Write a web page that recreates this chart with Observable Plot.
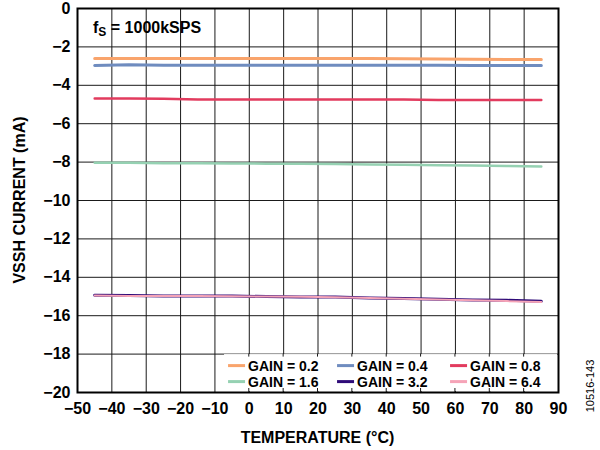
<!DOCTYPE html>
<html>
<head>
<meta charset="utf-8">
<script src="https://cdn.jsdelivr.net/npm/d3@7"></script>
<script src="https://cdn.jsdelivr.net/npm/@observablehq/plot@0.6"></script>
<style>
  html, body { margin: 0; padding: 0; background: #fff; }
  #chart { width: 600px; height: 450px; }
</style>
</head>
<body>
<div id="chart"></div>
<script>
// ---- data ----
const temps = [-45, -35, -25, -15, -5, 5, 15, 25, 35, 45, 55, 65, 75, 85];
const gain02 = [-2.60, -2.60, -2.60, -2.60, -2.60, -2.60, -2.60, -2.61, -2.61, -2.62, -2.63, -2.64, -2.65, -2.65];
const gain04 = [-2.97, -2.93, -2.95, -2.96, -2.96, -2.96, -2.96, -2.96, -2.96, -2.96, -2.96, -2.97, -2.97, -2.97];
const gain08 = [-4.69, -4.69, -4.70, -4.74, -4.74, -4.74, -4.74, -4.74, -4.74, -4.74, -4.76, -4.77, -4.77, -4.77];
const gain16 = [-8.04, -8.04, -8.06, -8.06, -8.07, -8.08, -8.08, -8.10, -8.12, -8.14, -8.16, -8.18, -8.20, -8.23];
const gain32 = [-14.93, -14.95, -14.97, -14.98, -14.98, -15.00, -15.02, -15.03, -15.08, -15.10, -15.14, -15.18, -15.20, -15.25];
const gain64 = [-14.95, -14.97, -14.98, -14.98, -14.99, -15.00, -15.01, -15.04, -15.08, -15.12, -15.16, -15.20, -15.24, -15.28];
const seriesNames = ["GAIN = 0.2", "GAIN = 0.4", "GAIN = 0.8", "GAIN = 1.6", "GAIN = 3.2", "GAIN = 6.4"];
const seriesValues = [gain02, gain04, gain08, gain16, gain32, gain64];
const xTicks = [-50, -40, -30, -20, -10, 0, 10, 20, 30, 40, 50, 60, 70, 80, 90];
const yTicks = [0, -2, -4, -6, -8, -10, -12, -14, -16, -18, -20];
const titleMain = "f";
const titleSub = "S";
const titleRest = " = 1000kSPS";
const xLabel = "TEMPERATURE (°C)";
const yLabel = "VSSH CURRENT (mA)";
const caption = "10516-143";

// ---- styles ----
const colors = ["#F9A46C", "#6F8CBF", "#E23B5E", "#95D1B2", "#2E0B78", "#F5A3B7"];
const widths = [3, 3, 2.5, 2.5, 3, 2];

const rows = [];
seriesNames.forEach((name, i) => {
  temps.forEach((t, j) => rows.push({series: name, temp: t, value: seriesValues[i][j]}));
});

const font = "'Liberation Sans', Arial, Helvetica, sans-serif";

const plot = Plot.plot({
  width: 600,
  height: 450,
  marginLeft: 77,
  marginRight: 42,
  marginTop: 8,
  marginBottom: 58,
  style: {fontFamily: font, fontWeight: "bold", fontSize: "16px", color: "#000", background: "#fff"},
  x: {domain: [-50, 90], label: null},
  y: {domain: [-20, 0], label: null},
  color: {domain: seriesNames, range: colors},
  marks: [
    Plot.gridX(xTicks, {stroke: "#1a1a1a", strokeOpacity: 1, strokeWidth: 1}),
    Plot.gridY(yTicks, {stroke: "#1a1a1a", strokeOpacity: 1, strokeWidth: 1}),
    ...seriesNames.map((name, i) =>
      Plot.line(rows.filter(d => d.series === name), {
        x: "temp", y: "value", stroke: "series", strokeWidth: widths[i], curve: "linear"
      })
    ),
    Plot.frame({stroke: "#000", strokeWidth: 2}),
    Plot.axisX(xTicks, {tickSize: 0, tickPadding: 10, fontSize: 16, fontWeight: "bold"}),
    Plot.axisY(yTicks, {tickSize: 0, tickPadding: 7, fontSize: 16, fontWeight: "bold"})
  ]
});

document.getElementById("chart").appendChild(plot);

const svg = d3.select(plot);
const xs = plot.scale("x");
const ys = plot.scale("y");
const pLeft = xs.apply(-50), pRight = xs.apply(90);
const pTop = ys.apply(0), pBottom = ys.apply(-20);

// legend box (white, covers the grid inside the plot's lower right corner)
const legLeft = xs.apply(-7.2);
const legTop = ys.apply(-18);
const leg = svg.append("g").attr("font-family", font).attr("font-weight", "bold").attr("font-size", "14px").attr("text-anchor", "start");
leg.append("rect").attr("x", legLeft).attr("y", legTop + 0.5).attr("width", pRight - 1 - legLeft).attr("height", pBottom - 1 - legTop - 0.5).attr("fill", "#fff");
xTicks.forEach(t => {
  const px = xs.apply(t);
  if (px > legLeft && px < pRight - 2) {
    leg.append("line").attr("x1", px).attr("x2", px).attr("y1", pBottom - 4).attr("y2", pBottom).attr("stroke", "#1a1a1a");
    leg.append("line").attr("x1", px).attr("x2", px).attr("y1", legTop).attr("y2", legTop + 3).attr("stroke", "#1a1a1a");
  }
});

const colX = [legLeft + 4, legLeft + 113, legLeft + 226];
const rowY = [legTop + 12, legTop + 28];
seriesNames.forEach((name, i) => {
  const cx = colX[i % 3], cy = rowY[Math.floor(i / 3)];
  leg.append("line").attr("x1", cx).attr("x2", cx + 17).attr("y1", cy).attr("y2", cy)
    .attr("stroke", colors[i]).attr("stroke-width", 3);
  leg.append("text").attr("x", cx + 20).attr("y", cy).attr("dy", "0.36em").attr("fill", "#000").text(name);
});

// title
const title = svg.append("text").attr("x", pLeft + 16).attr("y", pTop + 25).attr("text-anchor", "start")
  .attr("font-family", font).attr("font-weight", "bold").attr("font-size", "16px").attr("fill", "#000");
title.append("tspan").text(titleMain);
title.append("tspan").attr("font-size", "12px").attr("dy", 3).text(titleSub);
title.append("tspan").attr("dy", -3).text(titleRest);

// axis labels
svg.append("text").attr("x", (pLeft + pRight) / 2).attr("y", 443)
  .attr("text-anchor", "middle").attr("font-family", font).attr("font-weight", "bold").attr("font-size", "16px").attr("fill", "#000")
  .text(xLabel);
svg.append("text").attr("transform", `translate(25,${(pTop + pBottom) / 2}) rotate(-90)`)
  .attr("text-anchor", "middle").attr("font-family", font).attr("font-weight", "bold").attr("font-size", "16px").attr("fill", "#000")
  .text(yLabel);
svg.append("text").attr("transform", `translate(594,386) rotate(-90)`)
  .attr("text-anchor", "middle").attr("font-family", font).attr("font-weight", "normal").attr("font-size", "11px").attr("fill", "#000")
  .text(caption);
</script>
</body>
</html>
